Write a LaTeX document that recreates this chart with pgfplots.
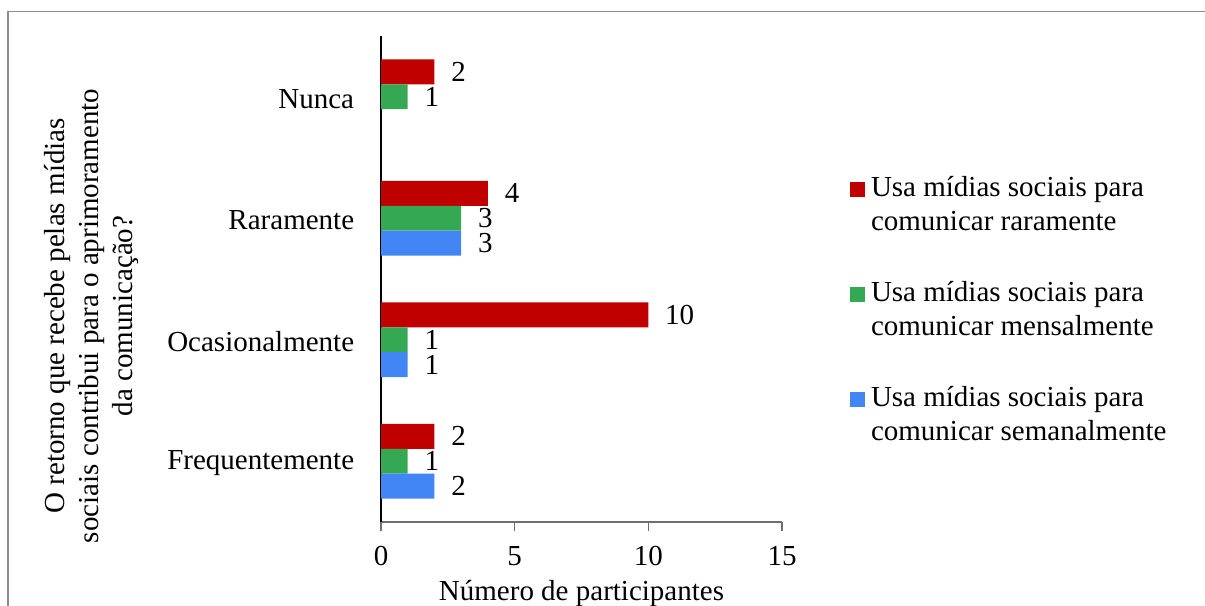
\documentclass[border=0pt]{standalone}
\usepackage{fontspec}
\setmainfont{Liberation Serif}
\usepackage{pgfplots}
\pgfplotsset{compat=1.18}
\definecolor{cred}{HTML}{C00000}
\definecolor{cgreen}{HTML}{34A853}
\definecolor{cblue}{HTML}{4285F4}
\definecolor{framegray}{HTML}{8C8C8C}
\definecolor{axgray}{HTML}{6E6E6E}
\begin{document}
\begin{tikzpicture}[font=\fontsize{14.5bp}{17bp}\selectfont]
\useasboundingbox (0bp,0bp) rectangle (602.5bp,303bp);
\clip (0bp,0bp) rectangle (602.5bp,303bp);
\draw[framegray, line width=0.75bp] (4bp,-10bp) -- (4bp,297.25bp) -- (615bp,297.25bp);
\begin{axis}[
  at={(190.5bp,42bp)}, anchor=south west,
  scale only axis, width=200.5bp, height=243bp,
  xbar, bar width=0.205,
  xmin=0, xmax=15, ymin=-0.5, ymax=3.5,
  axis x line=bottom, axis y line=left,
  axis line style={-},
  x axis line style={draw=axgray, line width=0.75bp},
  y axis line style={draw=black, line width=1bp},
  xtick={0,5,10,15},
  xtick align=outside,
  major tick length=4.5bp,
  xtick style={draw=axgray, line width=0.75bp},
  ytick={0,1,2,3},
  yticklabels={Frequentemente,Ocasionalmente,Raramente,Nunca},
  ytick style={draw=none},
  yticklabel style={anchor=east, inner sep=0pt, xshift=-11bp, yshift=-1bp},
  xticklabel style={anchor=base, inner sep=0pt, yshift=-17bp},
  /pgf/number format/assume math mode=true,
  point meta=x,
  nodes near coords,
  every node near coord/.append style={anchor=west, inner sep=0pt, xshift=8.25bp, text=black},
  xlabel={Número de participantes},
  xlabel style={at={(axis description cs:0.5,0)}, anchor=base, inner sep=0pt, yshift=-39bp},
  ylabel={O retorno que recebe pelas mídias\\sociais contribui para o aprimoramento\\da comunicação?},
  ylabel style={at={(axis description cs:-0.723,0.424)}, anchor=center, align=center, inner sep=0pt},
  legend style={draw=none, fill=none, at={(axis description cs:1.1696,0.6996)}, anchor=north west,
    inner sep=0pt, outer sep=0pt, row sep=44.5bp, column sep=3bp,
    nodes={inner sep=0pt, text depth=0pt, anchor=base west}},
  legend cell align=left,
  legend image code/.code={\fill[#1] (0bp,0bp) rectangle (7.5bp,7.5bp);},
]
\addplot[draw=none, fill=cred, bar shift=0.205] coordinates {(2,0) (10,1) (4,2) (2,3)};
\addlegendentry{\smash{\begin{tabular}[t]{@{}l@{}}Usa mídias sociais para\\comunicar raramente\end{tabular}}}
\addplot[draw=none, fill=cgreen, bar shift=0] coordinates {(1,0) (1,1) (3,2) (1,3)};
\addlegendentry{\smash{\begin{tabular}[t]{@{}l@{}}Usa mídias sociais para\\comunicar mensalmente\end{tabular}}}
\addplot[draw=none, fill=cblue, bar shift=-0.205] coordinates {(2,0) (1,1) (3,2)};
\addlegendentry{\smash{\begin{tabular}[t]{@{}l@{}}Usa mídias sociais para\\comunicar semanalmente\end{tabular}}}
\end{axis}
\end{tikzpicture}
\end{document}
